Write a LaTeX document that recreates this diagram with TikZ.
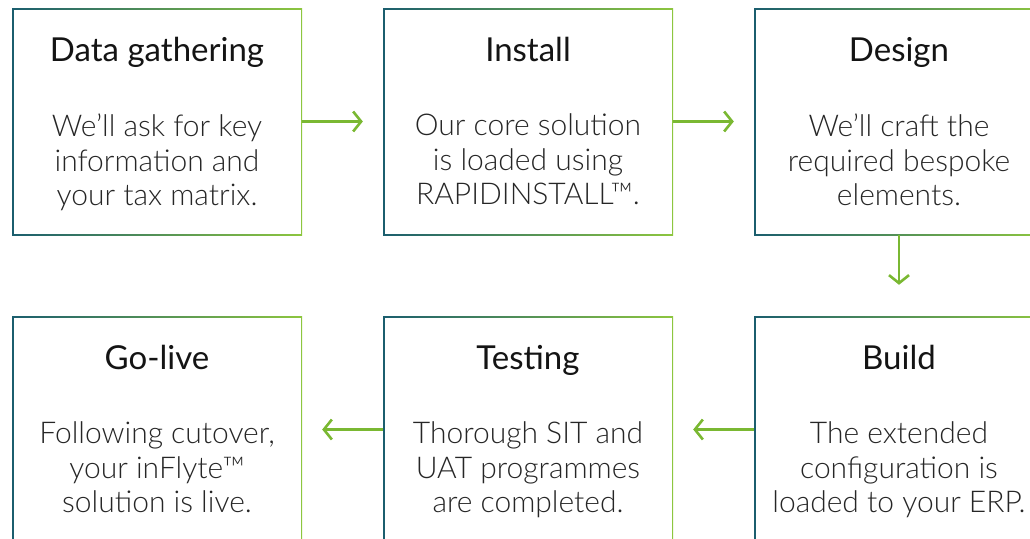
\documentclass[tikz,border=0pt]{standalone}
\usepackage{fontspec}
\setmainfont{Lato}
\newfontfamily\lightfont{Lato Light}
\usetikzlibrary{arrows.meta,calc}
\definecolor{tealc}{RGB}{27,94,110}
\definecolor{greenc}{RGB}{141,198,63}
\definecolor{arrowc}{RGB}{122,184,50}
\definecolor{txt}{RGB}{20,20,20}
\tikzset{
  box/.style={minimum width=290pt, minimum height=227pt, inner sep=0pt,
    left color=tealc, right color=greenc,
    path picture={\fill[white] ([shift={(1.5pt,-1.5pt)}]path picture bounding box.north west) rectangle ([shift={(-1.5pt,1.5pt)}]path picture bounding box.south east);}},
  ttl/.style={anchor=base, inner sep=0pt, text=txt, font=\fontsize{33}{36}\selectfont},
  body/.style={anchor=north, inner sep=0pt, align=center, text=black!85, font=\lightfont\fontsize{30}{34.5}\selectfont},
  arr/.style={draw=arrowc, line width=2.6pt, -{Straight Barb[length=8pt, width=20pt, line width=2.6pt]}}
}
\begin{document}
\begin{tikzpicture}[x=1pt,y=-1pt]
\useasboundingbox (0,0) rectangle (1030,538);
\begin{scope}
\clip (0,0) rectangle (1030,538);
\node[box] (n1) at (157,121.5) {};
\node[box] (n2) at (528,121.5) {};
\node[box] (n3) at (899,121.5) {};
\node[box] (n4) at (157,429.5) {};
\node[box] (n5) at (528,429.5) {};
\node[box] (n6) at (899,429.5) {};
\end{scope}
% titles
\node[ttl] (t1) at ($(n1.north)+(0,54)$) {Data gathering};
\node[ttl] (t2) at ($(n2.north)+(0,54)$) {Install};
\node[ttl] (t3) at ($(n3.north)+(0,54)$) {Design};
\node[ttl] (t4) at ($(n4.north)+(0,54)$) {Go-live};
\node[ttl] (t5) at ($(n5.north)+(0,54)$) {Testing};
\node[ttl] (t6) at ($(n6.north)+(0,54)$) {Build};
% bodies
\node[body] (b1) at ($(n1.north)+(0,106)$) {We’ll ask for key\\information and\\your tax matrix.};
\node[body] (b2) at ($(n2.north)+(0,106)$) {Our core solution\\is loaded using\\RAPIDINSTALL™.};
\node[body] (b3) at ($(n3.north)+(0,106)$) {We’ll craft the\\required bespoke\\elements.};
\node[body] (b4) at ($(n4.north)+(0,106)$) {Following cutover,\\your inFlyte™\\solution is live.};
\node[body] (b5) at ($(n5.north)+(0,106)$) {Thorough SIT and\\UAT programmes\\are completed.};
\node[body] (b6) at ($(n6.north)+(0,106)$) {The extended\\configuration is\\loaded to your ERP.};
% arrows
\draw[arr] (n1.east) -- ([xshift=-20pt]n2.west);
\draw[arr] (n2.east) -- ([xshift=-20pt]n3.west);
\draw[arr] (n3.south) -- ([yshift=31pt]n6.north);
\draw[arr] (n6.west) -- ([xshift=20pt]n5.east);
\draw[arr] (n5.west) -- ([xshift=20pt]n4.east);
\end{tikzpicture}
\end{document}
